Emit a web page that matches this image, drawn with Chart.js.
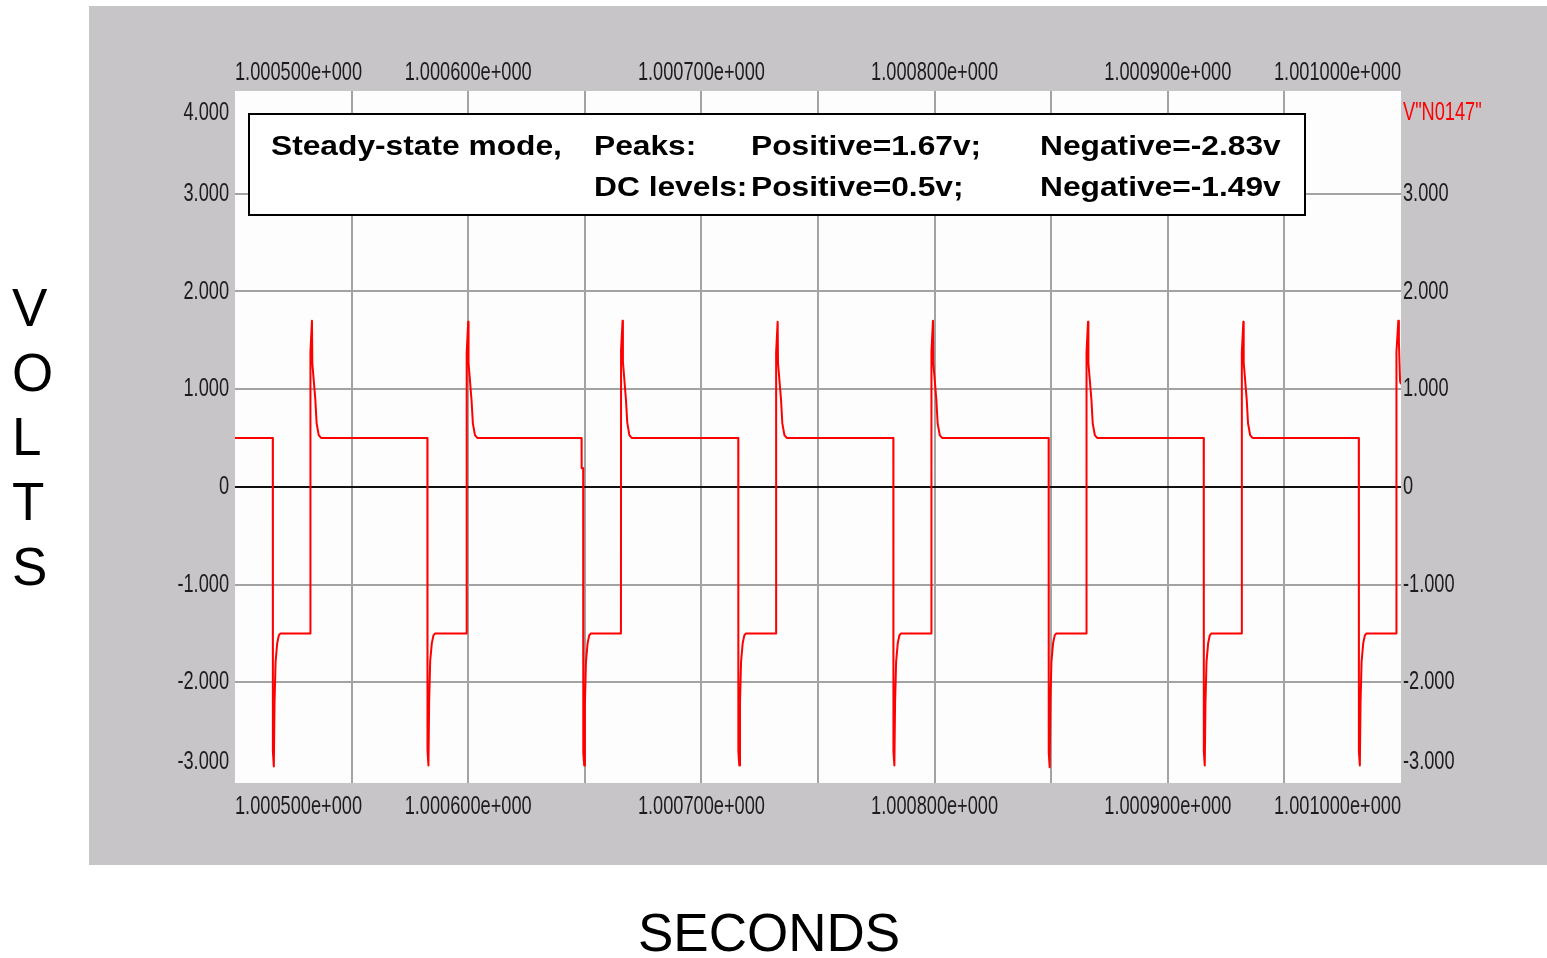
<!DOCTYPE html>
<html>
<head>
<meta charset="utf-8">
<script src="https://cdn.jsdelivr.net/npm/chart.js@4/dist/chart.umd.min.js"></script>
<style>
  html, body { margin: 0; padding: 0; background: #ffffff; width: 1547px; height: 958px; overflow: hidden; }
  #wrap { position: absolute; left: 89px; top: 6px; width: 1458px; height: 859px; }
  #volts { position: absolute; left: 12px; top: 276px; font-family: 'Liberation Sans', Arial, sans-serif; font-size: 53px; line-height: 64.7px; color: #000; }
  #seconds { position: absolute; left: 769px; top: 901px; transform: translateX(-50%); font-family: 'Liberation Sans', Arial, sans-serif; font-size: 53px; line-height: 64.7px; color: #000; white-space: nowrap; }
</style>
</head>
<body>
<div id="volts">V<br>O<br>L<br>T<br>S</div>
<div id="seconds">SECONDS</div>
<div id="wrap"><canvas id="c" width="1458" height="859"></canvas></div>
<script>
// ---- Data ----
// time offsets in microseconds after t = 1.000500 s
const timeUs = [
  0,
  16.2, 16.25, 16.65, 16.95, 17.4, 18.1, 18.8, 19.5,
  32.3, 32.35, 33.0, 33.15, 34.45, 35.0, 35.9, 36.9,
  82.5, 82.55, 82.95, 83.25, 83.7, 84.4, 85.1, 85.8,
  99.3, 99.35, 100.0, 100.15, 101.45, 102.0, 102.9, 103.9,
  148.6, 148.65, 149.3, 149.35, 149.75, 150.05, 150.5, 151.2, 151.9, 152.6,
  165.5, 165.55, 166.2, 166.35, 167.65, 168.2, 169.1, 170.1,
  215.8, 215.85, 216.25, 216.55, 217.0, 217.7, 218.4, 219.1,
  232.0, 232.05, 232.7, 232.85, 234.15, 234.7, 235.6, 236.6,
  282.3, 282.35, 282.75, 283.05, 283.5, 284.2, 284.9, 285.6,
  298.6, 298.65, 299.3, 299.45, 300.75, 301.3, 302.2, 303.2,
  348.9, 348.95, 349.35, 349.65, 350.1, 350.8, 351.5, 352.2,
  365.1, 365.15, 365.8, 365.95, 367.25, 367.8, 368.7, 369.7,
  415.4, 415.45, 415.85, 416.15, 416.6, 417.3, 418.0, 418.7,
  431.7, 431.75, 432.4, 432.55, 433.85, 434.4, 435.3, 436.3,
  481.9, 481.95, 482.35, 482.65, 483.1, 483.8, 484.5, 485.2,
  498.0, 498.05, 498.85, 499.1, 499.6, 500
];
// V"N0147" in volts
const volts = [
  0.50,
  0.50, -2.71, -2.86, -2.21, -1.79, -1.60, -1.52, -1.50,
  -1.50, 1.38, 1.70, 1.27, 0.89, 0.65, 0.53, 0.50,
  0.50, -2.70, -2.85, -2.20, -1.78, -1.60, -1.52, -1.50,
  -1.50, 1.37, 1.69, 1.27, 0.88, 0.65, 0.53, 0.50,
  0.50, 0.19, 0.19, -2.72, -2.85, -2.22, -1.79, -1.60, -1.52, -1.50,
  -1.50, 1.40, 1.70, 1.28, 0.89, 0.66, 0.53, 0.50,
  0.50, -2.71, -2.85, -2.21, -1.79, -1.60, -1.52, -1.50,
  -1.50, 1.38, 1.69, 1.27, 0.89, 0.65, 0.53, 0.50,
  0.50, -2.71, -2.85, -2.21, -1.79, -1.60, -1.52, -1.50,
  -1.50, 1.38, 1.70, 1.27, 0.89, 0.65, 0.53, 0.50,
  0.50, -2.72, -2.87, -2.21, -1.79, -1.60, -1.52, -1.50,
  -1.50, 1.38, 1.69, 1.27, 0.89, 0.65, 0.53, 0.50,
  0.50, -2.71, -2.85, -2.21, -1.79, -1.60, -1.52, -1.50,
  -1.50, 1.38, 1.69, 1.27, 0.89, 0.65, 0.53, 0.50,
  0.50, -2.71, -2.85, -2.21, -1.79, -1.60, -1.52, -1.50,
  -1.50, 1.38, 1.70, 1.49, 1.08, 1.05
];

const xTickValuesUs = [0, 50, 100, 150, 200, 250, 300, 350, 400, 450, 500];
const xTickLabels = ['1.000500e+000', '', '1.000600e+000', '', '1.000700e+000', '',
                     '1.000800e+000', '', '1.000900e+000', '', '1.001000e+000'];
const yTickValues = [-3, -2, -1, 0, 1, 2, 3, 4];
const yTickLabels = ['-3.000', '-2.000', '-1.000', '0', '1.000', '2.000', '3.000', '4.000'];
const yRightLabels = ['-3.000', '-2.000', '-1.000', '0', '1.000', '2.000', '3.000', 'V"N0147"'];

const annotationLines = [
  [['Steady-state mode,', 0], ['Peaks:', 1], ['Positive=1.67v;', 2], ['Negative=-2.83v', 3]],
  [['DC levels:', 1], ['Positive=0.5v;', 2], ['Negative=-1.49v', 3]]
];

// ---- Styling ----
const Y_MIN = -3.03, Y_MAX = 4.05;
const EDGE_LABEL_INSET = 0.17; // end labels drawn slightly inside the frame
const TICK_SCALE_X = 0.70;     // tall, narrow tick lettering
const tickFont = { family: "'Liberation Sans', Arial, sans-serif", size: 26 };
const tickColor = '#1c1c1c';
const gridGray = '#a3a3a3';

// Linear scale whose tick labels are drawn horizontally condensed
class NarrowLinearScale extends Chart.LinearScale {
  drawLabels(chartArea) {
    if (!this.options.ticks.display) return;
    const ctx = this.ctx;
    const items = this.getLabelItems(chartArea);
    for (const item of items) {
      const o = item.options;
      ctx.save();
      ctx.font = item.font.string;
      ctx.fillStyle = o.color;
      ctx.textAlign = o.textAlign;
      ctx.textBaseline = o.textBaseline;
      ctx.translate(o.translation[0], o.translation[1]);
      if (o.rotation) ctx.rotate(o.rotation);
      ctx.scale(TICK_SCALE_X, 1);
      const lines = Array.isArray(item.label) ? item.label : [item.label];
      let y = item.textOffset;
      for (const line of lines) { ctx.fillText(String(line), 0, y); y += item.font.lineHeight; }
      ctx.restore();
    }
  }
}
NarrowLinearScale.id = 'narrowLinear';
NarrowLinearScale.defaults = Chart.LinearScale.defaults;
Chart.register(NarrowLinearScale);

const yTicksBuilder = (scale) => {
  scale.ticks = yTickValues.map((v, i) => ({
    value: i === 0 ? v + EDGE_LABEL_INSET + 0.015 : (i === yTickValues.length - 1 ? v - EDGE_LABEL_INSET : v)
  }));
};
const xTicksBuilder = (scale) => { scale.ticks = xTickValuesUs.map(v => ({ value: v })); };

const bgPlugin = {
  id: 'bgPanel',
  beforeDraw(chart) {
    const { ctx, chartArea: a } = chart;
    ctx.save();
    ctx.fillStyle = '#c8c5c9';
    ctx.fillRect(0, 0, chart.width, chart.height);
    ctx.fillStyle = '#fdfdfd';
    ctx.fillRect(a.left, a.top, a.right - a.left, a.bottom - a.top);
    ctx.restore();
  }
};

const boxPlugin = {
  id: 'annotBox',
  afterDraw(chart) {
    const { ctx, chartArea: a } = chart;
    const left = a.left + 14, top = a.top + 23, right = a.left + 1070, bottom = a.top + 124;
    ctx.save();
    ctx.fillStyle = '#ffffff';
    ctx.fillRect(left, top, right - left, bottom - top);
    ctx.strokeStyle = '#000000';
    ctx.lineWidth = 2;
    ctx.strokeRect(left, top, right - left, bottom - top);
    ctx.fillStyle = '#000000';
    ctx.font = "bold 27px 'Liberation Sans', Arial, sans-serif";
    ctx.textBaseline = 'alphabetic';
    const colX = [left + 22, left + 345, left + 502, left + 791];
    const rowY = [top + 41, top + 82];
    annotationLines.forEach((line, r) => {
      line.forEach(([txt, col]) => {
        ctx.save();
        ctx.translate(colX[col], rowY[r]);
        ctx.scale(1.175, 1);
        ctx.fillText(txt, 0, 0);
        ctx.restore();
      });
    });
    ctx.restore();
  }
};

new Chart(document.getElementById('c').getContext('2d'), {
  type: 'scatter',
  data: {
    datasets: [{
      label: 'V"N0147"',
      data: timeUs.map((t, i) => ({ x: t, y: volts[i] })),
      showLine: true,
      borderColor: '#ff0000',
      borderWidth: 2,
      borderJoinStyle: 'round',
      pointRadius: 0,
      pointHoverRadius: 0,
      tension: 0,
      fill: false,
      xAxisID: 'x',
      yAxisID: 'y'
    }]
  },
  options: {
    responsive: false,
    animation: false,
    events: [],
    layout: { padding: 0 },
    plugins: { legend: { display: false }, tooltip: { enabled: false } },
    scales: {
      x: {
        type: 'narrowLinear', position: 'bottom', min: 0, max: 500,
        afterBuildTicks: xTicksBuilder,
        afterFit: (s) => { s.height = 82; },
        ticks: { autoSkip: false, maxRotation: 0, minRotation: 0, align: 'inner', padding: 8,
                 font: tickFont, color: tickColor, callback: (v, i) => xTickLabels[i] },
        grid: { drawTicks: false, lineWidth: 2,
                color: (c) => (c.index === 0 || c.index === xTickValuesUs.length - 1) ? 'rgba(0,0,0,0)' : gridGray },
        border: { display: false }
      },
      xTop: {
        type: 'narrowLinear', position: 'top', min: 0, max: 500,
        afterBuildTicks: xTicksBuilder,
        afterFit: (s) => { s.height = 85; },
        ticks: { autoSkip: false, maxRotation: 0, minRotation: 0, align: 'inner', padding: 3,
                 font: tickFont, color: tickColor, callback: (v, i) => xTickLabels[i] },
        grid: { display: false, drawTicks: false },
        border: { display: false }
      },
      y: {
        type: 'narrowLinear', position: 'left', min: Y_MIN, max: Y_MAX,
        afterBuildTicks: yTicksBuilder,
        afterFit: (s) => { s.width = 146; },
        ticks: { autoSkip: false, padding: 6, font: tickFont, color: tickColor,
                 callback: (v, i) => yTickLabels[i] },
        grid: { drawTicks: false, lineWidth: 2,
                color: (c) => {
                  if (c.index === 0 || c.index === yTickValues.length - 1) return 'rgba(0,0,0,0)';
                  return yTickValues[c.index] === 0 ? '#111111' : gridGray;
                } },
        border: { display: false }
      },
      yRight: {
        type: 'narrowLinear', position: 'right', min: Y_MIN, max: Y_MAX,
        afterBuildTicks: yTicksBuilder,
        afterFit: (s) => { s.width = 146; },
        ticks: { autoSkip: false, padding: 2, font: tickFont,
                 color: (c) => c.index === yTickValues.length - 1 ? '#ff0000' : tickColor,
                 callback: (v, i) => yRightLabels[i] },
        grid: { display: false, drawTicks: false },
        border: { display: false }
      }
    }
  },
  plugins: [bgPlugin, boxPlugin]
});
</script>
</body>
</html>
